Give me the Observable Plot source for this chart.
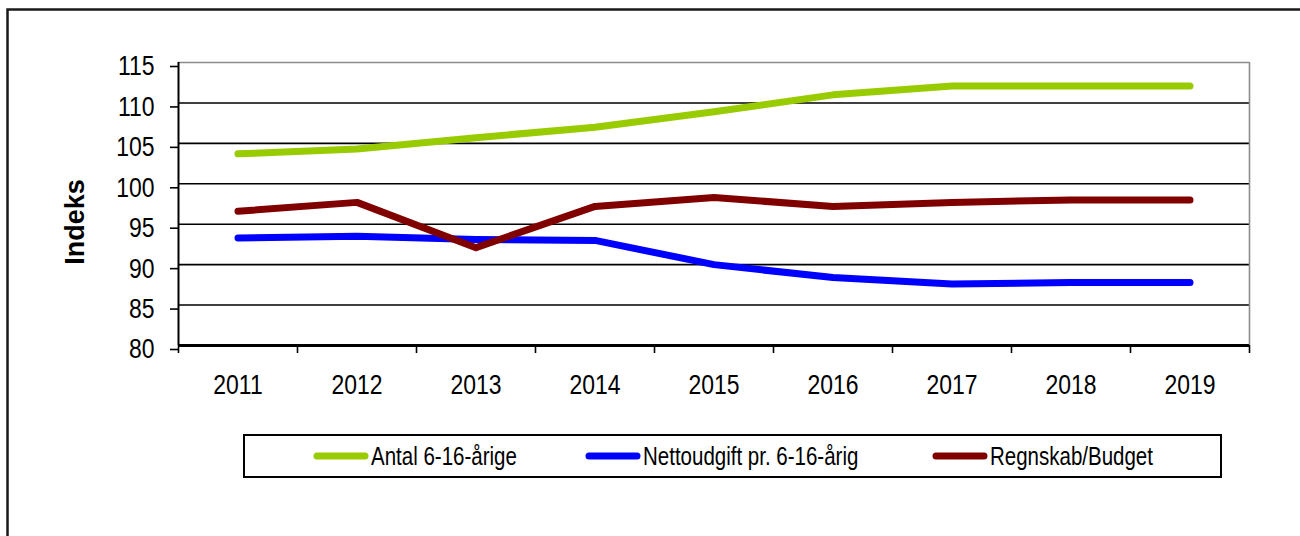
<!DOCTYPE html>
<html>
<head>
<meta charset="utf-8">
<script src="https://cdn.jsdelivr.net/npm/d3@7"></script>
<script src="https://cdn.jsdelivr.net/npm/@observablehq/plot@0.6"></script>
<style>
  html, body { margin: 0; padding: 0; background: #fff; }
  #chart { position: relative; width: 1300px; height: 536px; overflow: hidden; }
</style>
</head>
<body>
<div id="chart"></div>
<script>
const years = [2011, 2012, 2013, 2014, 2015, 2016, 2017, 2018, 2019];
const seriesNames = ["Antal 6-16-årige", "Nettoudgift pr. 6-16-årig", "Regnskab/Budget"];
const antal = [103.7, 104.3, 105.7, 107.0, 108.9, 111.0, 112.1, 112.1, 112.1];
const netto = [93.3, 93.5, 93.1, 93.0, 90.0, 88.4, 87.6, 87.8, 87.8];
const regnskab = [96.6, 97.7, 92.1, 97.2, 98.3, 97.2, 97.7, 98.0, 98.0];
const yTicks = [80, 85, 90, 95, 100, 105, 110, 115];
const colors = ["#99CC00", "#0000FF", "#800000"];
const yLabel = "Indeks";

const seriesValues = [antal, netto, regnskab];
const rows = [];
seriesNames.forEach((s, i) => years.forEach((y, j) => rows.push({series: s, year: y, value: seriesValues[i][j]})));
const bounds = years.map(y => y - 0.5).concat([years[years.length - 1] + 0.5]);
const gridTicks = yTicks.slice(1, -1);

const font = '"Liberation Sans", Arial, sans-serif';
const SQUEEZE = 0.82;

const plot = Plot.plot({
  width: 1300,
  height: 536,
  marginLeft: 178,
  marginRight: 51,
  marginTop: 62,
  marginBottom: 191,
  style: {fontFamily: font, fontSize: "28px", color: "#000", background: "#fff", overflow: "visible"},
  x: {type: "linear", domain: [bounds[0], bounds[bounds.length - 1]], axis: null},
  y: {domain: [80, 115], axis: null},
  color: {domain: seriesNames, range: colors},
  marks: [
    Plot.ruleY(gridTicks, {stroke: "#000", strokeWidth: 1.6}),
    Plot.ruleY([yTicks[yTicks.length - 1]], {stroke: "#8c8c8c", strokeWidth: 1.6}),
    Plot.ruleX([bounds[bounds.length - 1]], {stroke: "#8c8c8c", strokeWidth: 1.6}),
    Plot.axisY({ticks: yTicks, tickSize: 8, tickPadding: 16, tickFormat: d => String(d), dy: 4, stroke: "#000", strokeWidth: 1.6, label: null, fontSize: 28}),
    Plot.axisX({ticks: bounds, tickSize: 8, tickFormat: () => "", stroke: "#000", strokeWidth: 1.6, label: null}),
    Plot.text(years, {x: d => d, frameAnchor: "bottom", dy: 48, text: d => String(d), fontSize: 28, fill: "#000"}),
    Plot.ruleX([bounds[0]], {stroke: "#000", strokeWidth: 2}),
    Plot.ruleY([yTicks[0]], {stroke: "#000", strokeWidth: 3}),
    Plot.line(rows, {x: "year", y: "value", z: "series", stroke: "series", strokeWidth: 7, strokeLinecap: "round", strokeLinejoin: "round"})
  ]
});

const svg = d3.select(plot);

// condense the tick label glyphs horizontally (narrow face, as in the reference)
svg.selectAll("text").each(function () {
  const t = this.getAttribute("transform");
  if (t) {
    this.setAttribute("transform", t + ` scale(${SQUEEZE},1)`);
  } else {
    const x = +(this.getAttribute("x") || 0), y = +(this.getAttribute("y") || 0);
    this.setAttribute("transform", `translate(${x},${y}) scale(${SQUEEZE},1) translate(${-x},${-y})`);
  }
});

// outer chart border (cropped chart area)
svg.append("path").attr("d", "M7.5,536 V9.5 H1300").attr("fill", "none").attr("stroke", "#1a1a1a").attr("stroke-width", 2.5);

// y axis title
svg.append("text")
  .attr("transform", "translate(84,222) rotate(-90)")
  .attr("text-anchor", "middle")
  .attr("font-family", font)
  .attr("font-weight", "bold")
  .attr("font-size", 27)
  .attr("fill", "#000")
  .text(yLabel);

// legend
const lg = svg.append("g");
lg.append("rect").attr("x", 244).attr("y", 435).attr("width", 977).attr("height", 42)
  .attr("fill", "#fff").attr("stroke", "#000").attr("stroke-width", 2);
const legendX = [314, 586, 933];
seriesNames.forEach((s, i) => {
  lg.append("line").attr("x1", legendX[i] + 3).attr("x2", legendX[i] + 51).attr("y1", 456).attr("y2", 456)
    .attr("stroke", colors[i]).attr("stroke-width", 7).attr("stroke-linecap", "round");
  lg.append("text")
    .attr("transform", `translate(${legendX[i] + 57},465) scale(${SQUEEZE},1)`)
    .attr("text-anchor", "start")
    .attr("font-family", font).attr("font-size", 25).attr("fill", "#000").text(s);
});

document.getElementById("chart").appendChild(plot);
</script>
</body>
</html>
